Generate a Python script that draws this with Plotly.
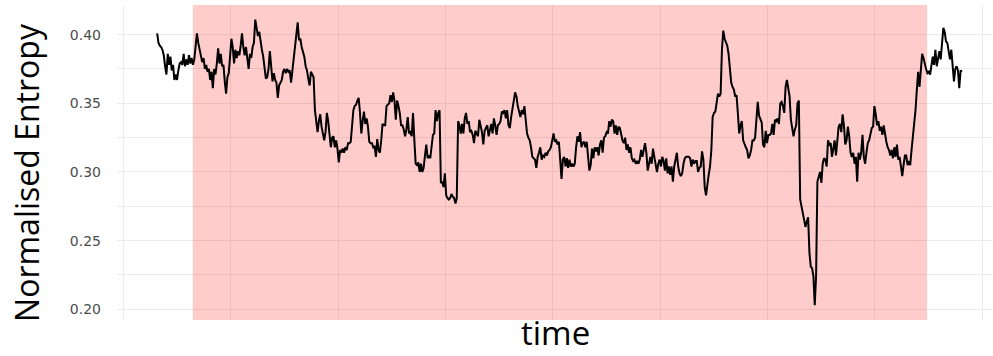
import numpy as np
import plotly.graph_objects as go

# Normalised entropy readings in consecutive chunks
seg_a = [0.401, 0.394, 0.392, 0.391, 0.389, 0.385, 0.377, 0.371, 0.386, 0.378,
         0.384, 0.374, 0.378, 0.367, 0.371, 0.367, 0.374, 0.379, 0.380, 0.378,
         0.386, 0.377, 0.382, 0.378, 0.385, 0.379, 0.383, 0.378, 0.382, 0.391,
         0.401, 0.394, 0.389, 0.383, 0.380, 0.383, 0.375, 0.378, 0.373, 0.375,
         0.367, 0.373, 0.361, 0.375, 0.371, 0.379, 0.390, 0.379, 0.386, 0.377,
         0.378, 0.366, 0.357, 0.369, 0.372, 0.384, 0.397, 0.391, 0.379, 0.389,
         0.383, 0.388, 0.385, 0.392, 0.401, 0.391, 0.385, 0.391, 0.383, 0.375,
         0.386, 0.383, 0.391, 0.394, 0.411, 0.403, 0.399, 0.402, 0.394, 0.389,
         0.384, 0.375, 0.368, 0.369, 0.375, 0.388, 0.373, 0.366, 0.372, 0.367,
         0.365, 0.354, 0.363, 0.365, 0.367, 0.373, 0.375, 0.372, 0.375, 0.373,
         0.374]
seg_b = [0.365, 0.374, 0.382, 0.391, 0.399, 0.409, 0.396, 0.397, 0.391, 0.388,
         0.384, 0.377, 0.374, 0.368, 0.363, 0.373, 0.371, 0.369, 0.345, 0.335,
         0.329, 0.337, 0.342, 0.333, 0.326, 0.323, 0.329, 0.343, 0.337, 0.328,
         0.318, 0.325, 0.326, 0.318, 0.323, 0.317, 0.307, 0.316, 0.314, 0.317,
         0.314, 0.318, 0.316, 0.321, 0.321, 0.322, 0.333, 0.345, 0.348, 0.349,
         0.352, 0.354, 0.343, 0.328, 0.337, 0.344, 0.335, 0.339, 0.333, 0.322,
         0.321, 0.321, 0.318, 0.319, 0.311, 0.324, 0.316, 0.314, 0.323, 0.335,
         0.334, 0.334, 0.348, 0.349, 0.350, 0.356, 0.351, 0.358, 0.352, 0.338,
         0.352, 0.348, 0.343, 0.334, 0.334, 0.331, 0.326, 0.331, 0.340, 0.328,
         0.329, 0.326, 0.343, 0.323, 0.306, 0.305, 0.307, 0.300, 0.306, 0.300,
         0.303, 0.312, 0.320]
seg_c = [0.310, 0.312, 0.310, 0.317, 0.327, 0.328, 0.345, 0.337, 0.343, 0.345,
         0.292, 0.293, 0.289, 0.299, 0.283, 0.281, 0.280, 0.281, 0.284, 0.282,
         0.281, 0.277, 0.281, 0.337, 0.334, 0.328, 0.335, 0.328, 0.339, 0.343,
         0.335, 0.337, 0.329, 0.330, 0.327, 0.321, 0.330, 0.328, 0.326, 0.338,
         0.333, 0.329, 0.320, 0.330, 0.332, 0.334, 0.326, 0.330, 0.335, 0.328,
         0.339, 0.334, 0.327, 0.334, 0.335, 0.337, 0.344, 0.343, 0.345, 0.339,
         0.345, 0.334, 0.332, 0.340, 0.348, 0.352, 0.358, 0.355, 0.348, 0.344,
         0.340, 0.345, 0.342, 0.348, 0.340, 0.328, 0.325, 0.323, 0.318, 0.311,
         0.310, 0.309, 0.303, 0.311, 0.314, 0.318, 0.309, 0.312, 0.311, 0.314,
         0.312, 0.315, 0.316, 0.318, 0.323, 0.328, 0.322, 0.323, 0.320, 0.322,
         0.309, 0.295]
seg_d = [0.309, 0.311, 0.304, 0.310, 0.303, 0.309, 0.304, 0.306, 0.304, 0.306,
         0.318, 0.326, 0.322, 0.329, 0.318, 0.321, 0.322, 0.318, 0.322, 0.309,
         0.301, 0.305, 0.317, 0.310, 0.318, 0.315, 0.318, 0.312, 0.320, 0.323,
         0.314, 0.325, 0.326, 0.329, 0.328, 0.337, 0.333, 0.338, 0.337, 0.328,
         0.334, 0.327, 0.333, 0.332, 0.327, 0.323, 0.321, 0.325, 0.316, 0.320,
         0.314, 0.318, 0.310, 0.308, 0.309, 0.306, 0.308, 0.306, 0.309, 0.316,
         0.311, 0.317, 0.321, 0.314, 0.301, 0.306, 0.311, 0.306, 0.317, 0.311,
         0.306, 0.300, 0.306, 0.309, 0.304, 0.311, 0.308, 0.301, 0.310, 0.299,
         0.304, 0.298, 0.304, 0.293, 0.304, 0.309, 0.314, 0.304, 0.299, 0.297,
         0.299, 0.306, 0.310, 0.311, 0.311, 0.311, 0.310, 0.304, 0.309, 0.306,
         0.308]
seg_e = [0.308, 0.300, 0.303, 0.304, 0.315, 0.309, 0.289, 0.283, 0.293, 0.298,
         0.304, 0.316, 0.340, 0.343, 0.344, 0.350, 0.357, 0.355, 0.357, 0.389,
         0.403, 0.397, 0.394, 0.392, 0.386, 0.377, 0.365, 0.362, 0.360, 0.355,
         0.356, 0.343, 0.328, 0.334, 0.337, 0.323, 0.320, 0.318, 0.316, 0.310,
         0.312, 0.316, 0.323, 0.323, 0.325, 0.343, 0.351, 0.341, 0.338, 0.336,
         0.320, 0.318, 0.330, 0.321, 0.327, 0.327, 0.328, 0.335, 0.327, 0.338,
         0.337, 0.339, 0.335, 0.350, 0.351, 0.348, 0.343, 0.362, 0.367, 0.360,
         0.355, 0.338, 0.331, 0.326, 0.331, 0.334, 0.350, 0.352, 0.280, 0.275,
         0.272, 0.267, 0.260, 0.264, 0.267, 0.241, 0.231, 0.230, 0.224, 0.203,
         0.224, 0.293, 0.297, 0.300, 0.292, 0.306, 0.310, 0.309, 0.304, 0.323,
         0.320]
seg_f = [0.321, 0.311, 0.318, 0.323, 0.312, 0.321, 0.333, 0.335, 0.329, 0.342,
         0.334, 0.320, 0.323, 0.333, 0.326, 0.314, 0.311, 0.314, 0.306, 0.311,
         0.293, 0.314, 0.309, 0.314, 0.327, 0.311, 0.306, 0.314, 0.321, 0.323,
         0.328, 0.332, 0.333, 0.348, 0.342, 0.334, 0.337, 0.330, 0.333, 0.327,
         0.334, 0.326, 0.322, 0.318, 0.316, 0.312, 0.316, 0.310, 0.318, 0.311,
         0.320, 0.309, 0.311, 0.304, 0.297, 0.305, 0.312, 0.312, 0.305, 0.308,
         0.305, 0.316, 0.326, 0.334, 0.345, 0.360, 0.373, 0.362, 0.373, 0.386,
         0.383, 0.378, 0.375, 0.372, 0.373, 0.371, 0.378, 0.384, 0.378, 0.389,
         0.377, 0.384, 0.388, 0.382, 0.395, 0.405, 0.402, 0.395, 0.394, 0.388,
         0.382, 0.389, 0.375, 0.366, 0.375, 0.377, 0.374, 0.361, 0.374, 0.373]

entropy = seg_a + seg_b + seg_c + seg_d + seg_e + seg_f

# regular sampling in time
time_start = 0.657
time_step = 0.006175
time = time_start + time_step * np.arange(len(entropy))

# highlighted period
period_start = 0.823
period_end = 4.243

# axis limits
x_limits = [0.470, 4.550]
y_limits = [0.1922, 0.4216]

y_ticks = [0.20, 0.25, 0.30, 0.35, 0.40]
y_tick_labels = ["0.20", "0.25", "0.30", "0.35", "0.40"]

fig = go.Figure()
# highlighted period as a filled band spanning the full panel height
fig.add_trace(go.Scatter(
    x=[period_start, period_end, period_end, period_start, period_start],
    y=[y_limits[0], y_limits[0], y_limits[1], y_limits[1], y_limits[0]],
    mode="lines", fill="toself", fillcolor="rgba(255,0,0,0.2)",
    line=dict(width=0), hoverinfo="skip", showlegend=False))

fig.add_trace(go.Scatter(x=time, y=entropy, mode="lines",
                         line=dict(color="black", width=2),
                         hoverinfo="skip", showlegend=False))

grid = "#EBEBEB"
fig.update_layout(
    width=993, height=356,
    margin=dict(l=117, r=0, t=5, b=36),
    paper_bgcolor="white", plot_bgcolor="white",
    showlegend=False,
    xaxis=dict(range=x_limits, showticklabels=False, ticks="",
               showgrid=True, gridcolor=grid, gridwidth=1.3,
               tick0=0, dtick=1, zeroline=False, showline=False,
               minor=dict(showgrid=True, gridcolor=grid, gridwidth=0.8,
                          tick0=0, dtick=0.5)),
    yaxis=dict(range=y_limits, tickvals=y_ticks, ticktext=y_tick_labels,
               ticks="", ticklabelstandoff=15,
               tickfont=dict(family="DejaVu Sans", size=14, color="#4D4D4D"),
               showgrid=True, gridcolor=grid, gridwidth=1.3,
               zeroline=False, showline=False,
               minor=dict(showgrid=True, gridcolor=grid, gridwidth=0.8,
                          tick0=0, dtick=0.025)),
    annotations=[
        dict(text="Normalised Entropy", xref="paper", yref="paper",
             x=-0.1027, y=0.467, xanchor="center", yanchor="middle",
             textangle=-90, showarrow=False,
             font=dict(family="Open Sans", size=32, color="black")),
        dict(text="time", xref="paper", yref="paper",
             x=0.5, y=-0.1143, xanchor="center", yanchor="bottom",
             showarrow=False, borderpad=0,
             font=dict(family="Open Sans", size=33, color="black")),
    ],
)

fig.write_html("out.html",
               config={"displayModeBar": False},
               post_script="document.body.style.margin='0';document.body.style.padding='0';")
